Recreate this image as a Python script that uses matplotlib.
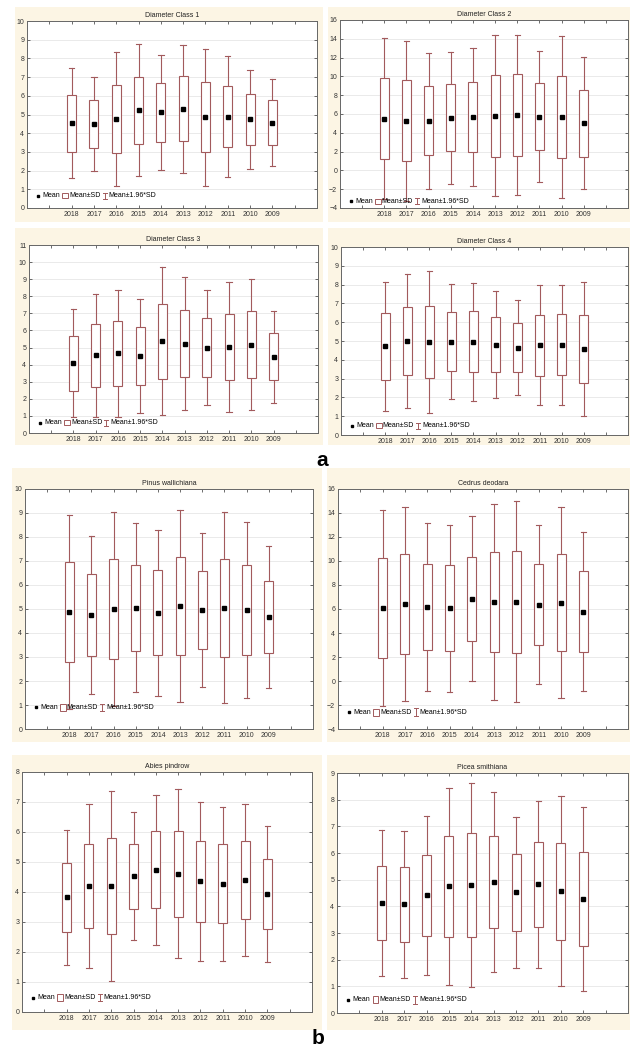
import matplotlib
matplotlib.use("Agg")
import matplotlib.pyplot as plt
from matplotlib.patches import Rectangle

plt.rcParams["font.family"] = ["Liberation Sans", "DejaVu Sans"]

W, H = 630, 1052
CREAM = "#FCF5E4"
BOXC = "#A25A5C"
FS = 5

years = ["2018", "2017", "2016", "2015", "2014", "2013", "2012", "2011", "2010", "2009"]

# means and standard deviations per year
dc1_mean = [4.52, 4.49, 4.77, 5.23, 5.11, 5.31, 4.85, 4.89, 4.74, 4.57]
dc1_sd = [1.50, 1.29, 1.82, 1.80, 1.57, 1.75, 1.87, 1.65, 1.35, 1.19]
dc2_mean = [5.52, 5.28, 5.27, 5.59, 5.68, 5.82, 5.86, 5.70, 5.68, 5.00]
dc2_sd = [4.35, 4.33, 3.68, 3.57, 3.72, 4.38, 4.35, 3.55, 4.38, 3.58]
dc3_mean = [4.09, 4.54, 4.66, 4.50, 5.36, 5.23, 4.99, 5.04, 5.16, 4.46]
dc3_sd = [1.61, 1.83, 1.90, 1.69, 2.21, 1.98, 1.72, 1.95, 1.95, 1.37]
dc4_mean = [4.71, 5.01, 4.94, 4.97, 4.97, 4.81, 4.65, 4.78, 4.81, 4.56]
dc4_sd = [1.76, 1.82, 1.93, 1.55, 1.60, 1.46, 1.29, 1.62, 1.63, 1.82]
pinus_mean = [4.87, 4.75, 5.00, 5.05, 4.84, 5.13, 4.96, 5.05, 4.97, 4.67]
pinus_sd = [2.07, 1.69, 2.07, 1.80, 1.77, 2.04, 1.64, 2.03, 1.87, 1.51]
cedrus_mean = [6.10, 6.42, 6.17, 6.08, 6.87, 6.60, 6.59, 6.37, 6.54, 5.79]
cedrus_sd = [4.16, 4.13, 3.58, 3.55, 3.50, 4.16, 4.27, 3.39, 4.07, 3.36]
abies_mean = [3.82, 4.20, 4.20, 4.52, 4.74, 4.61, 4.36, 4.28, 4.40, 3.94]
abies_sd = [1.15, 1.40, 1.61, 1.09, 1.28, 1.44, 1.35, 1.31, 1.30, 1.16]
picea_mean = [4.12, 4.08, 4.41, 4.75, 4.80, 4.91, 4.52, 4.82, 4.57, 4.27]
picea_sd = [1.39, 1.41, 1.52, 1.89, 1.96, 1.72, 1.45, 1.59, 1.82, 1.76]

fig = plt.figure(figsize=(W / 100, H / 100), dpi=100)


def cream(x0, y0, x1, y1):
    fig.add_artist(Rectangle((x0 / W, 1 - y1 / H), (x1 - x0) / W, (y1 - y0) / H,
                             transform=fig.transFigure, facecolor=CREAM,
                             edgecolor="none", zorder=0))


def panel(rect, title, mean, sd, ylim, ystep, leg_y):
    l, t, r, b = rect
    ax = fig.add_axes([l / W, 1 - b / H, (r - l) / W, (b - t) / H])
    ax.set_facecolor("white")
    ax.set_zorder(1)
    for i, (m, s) in enumerate(zip(mean, sd)):
        x = i + 2
        lo, hi = m - s, m + s
        wlo, whi = m - 1.96 * s, m + 1.96 * s
        ax.plot([x, x], [hi, whi], color=BOXC, lw=0.8)
        ax.plot([x, x], [wlo, lo], color=BOXC, lw=0.8)
        ax.plot([x - 0.12, x + 0.12], [whi, whi], color=BOXC, lw=0.8)
        ax.plot([x - 0.12, x + 0.12], [wlo, wlo], color=BOXC, lw=0.8)
        ax.add_patch(Rectangle((x - 0.2, lo), 0.4, hi - lo, facecolor="white",
                               edgecolor=BOXC, lw=0.8, zorder=3))
        ax.plot(x, m, "s", color="black", ms=2.2, zorder=4)
    ax.set_xlim(0, 13)
    ax.set_ylim(*ylim)
    ax.set_xticks(range(1, 13))
    ax.set_xticklabels([""] + years + [""])
    yt = list(range(ylim[0], ylim[1] + 1, ystep))
    ax.set_yticks(yt)
    ax.yaxis.grid(True, color="#E2E2E2", lw=0.5)
    ax.set_axisbelow(True)
    ax.tick_params(direction="in", length=2, width=0.5, top=True, right=True,
                   labelsize=FS, colors="#333333", pad=2)
    for sp in ax.spines.values():
        sp.set_color("#666666")
        sp.set_linewidth(0.7)
    ax.set_title(title, fontsize=FS, pad=3, color="#222222")

    # legend row inside the plot
    tr = ax.transAxes
    ax.plot(0.038, leg_y, "s", color="black", ms=2.0, transform=tr, clip_on=False)
    ax.text(0.052, leg_y, "Mean", fontsize=FS, va="center", transform=tr)
    ax.add_patch(Rectangle((0.122, leg_y - 0.014), 0.02, 0.028, transform=tr,
                           facecolor="white", edgecolor=BOXC, lw=0.7))
    ax.text(0.145, leg_y, "Mean±SD", fontsize=FS, va="center", transform=tr)
    xi = 0.268
    ax.plot([xi, xi], [leg_y - 0.016, leg_y + 0.016], color=BOXC, lw=0.7, transform=tr)
    for yy in (leg_y - 0.016, leg_y + 0.016):
        ax.plot([xi - 0.007, xi + 0.007], [yy, yy], color=BOXC, lw=0.7, transform=tr)
    ax.text(0.282, leg_y, "Mean±1.96*SD", fontsize=FS, va="center", transform=tr)
    return ax


# group a
cream(15, 7, 323, 222)
cream(328, 7, 630, 222)
cream(15, 228, 323, 445)
cream(328, 228, 630, 445)
panel((27, 21, 317, 208), "Diameter Class 1", dc1_mean, dc1_sd, (0, 10), 1, 0.065)
panel((340, 20, 628, 208), "Diameter Class 2", dc2_mean, dc2_sd, (-4, 16), 2, 0.035)
panel((29, 245, 318, 433), "Diameter Class 3", dc3_mean, dc3_sd, (0, 11), 1, 0.055)
panel((341, 247, 628, 435), "Diameter Class 4", dc4_mean, dc4_sd, (0, 10), 1, 0.05)

# group b
cream(12, 468, 322, 742)
cream(327, 468, 630, 742)
cream(12, 755, 322, 1030)
cream(327, 755, 630, 1030)
panel((25, 489, 313, 729), "Pinus wallichiana", pinus_mean, pinus_sd, (0, 10), 1, 0.09)
panel((338, 489, 628, 729), "Cedrus deodara", cedrus_mean, cedrus_sd, (-4, 16), 2, 0.07)
panel((22, 772, 312, 1012), "Abies pindrow", abies_mean, abies_sd, (0, 8), 1, 0.06)
panel((337, 773, 628, 1013), "Picea smithiana", picea_mean, picea_sd, (0, 9), 1, 0.055)

fig.text(322 / W, 1 - 461 / H, "a", fontsize=15, fontweight="bold", ha="center", va="center")
fig.text(318 / W, 1 - 1038 / H, "b", fontsize=15, fontweight="bold", ha="center", va="center")

fig.savefig("out.png", dpi=100)
